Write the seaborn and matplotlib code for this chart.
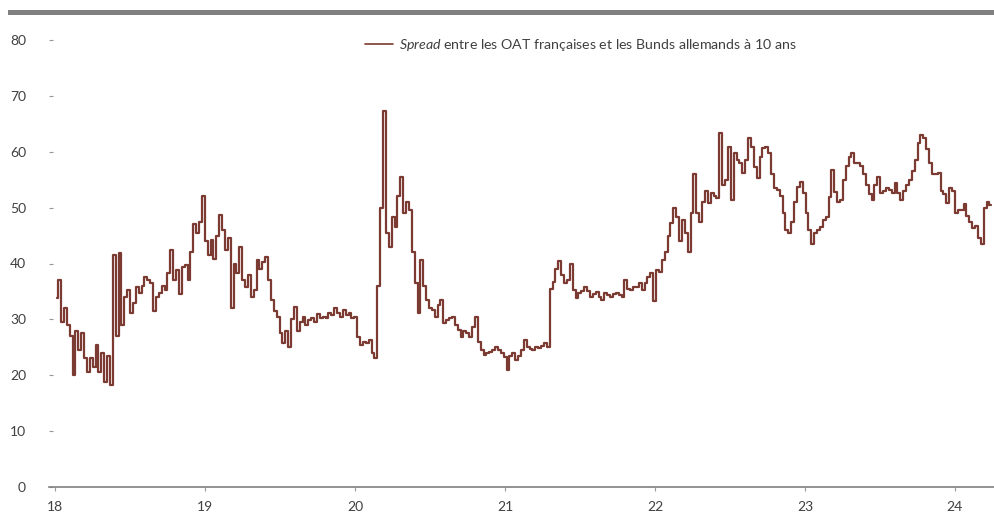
import matplotlib
matplotlib.use("Agg")
import matplotlib.pyplot as plt
from matplotlib.patches import Rectangle
import pandas as pd
import seaborn as sns

# Weekly 10-year OAT-Bund spread, in basis points
spread_2018 = [33.8, 37.0, 29.5, 32.0, 29.0, 27.0, 20.0, 28.0, 24.5, 27.5, 23.0, 20.5, 23.0,
               21.5, 25.5, 20.5, 24.0, 18.8, 23.5, 18.3, 41.5, 27.0, 41.8, 29.0, 34.0, 35.3,
               31.1, 33.0, 35.8, 34.7, 36.0, 37.6, 37.0, 36.5, 31.5, 34.0, 34.7, 36.0, 35.3,
               38.3, 42.4, 37.0, 38.8, 34.5, 39.4, 39.7, 37.0, 42.0, 47.0, 45.5, 47.5, 52.0]
spread_2019 = [44.0, 41.5, 44.2, 40.8, 45.0, 48.7, 46.0, 42.5, 44.6, 32.0, 40.0, 38.3, 43.0,
               37.0, 35.8, 38.0, 34.0, 35.3, 40.6, 39.0, 40.3, 41.2, 37.0, 33.5, 31.5, 30.5,
               27.5, 25.8, 28.0, 25.0, 30.0, 32.2, 28.0, 29.5, 30.4, 29.0, 29.8, 30.2, 29.5,
               31.0, 30.2, 30.5, 30.2, 31.1, 30.8, 32.0, 31.2, 30.4, 31.7, 30.8, 31.1, 30.2]
spread_2020 = [30.4, 26.8, 25.4, 26.0, 25.8, 26.3, 24.0, 23.1, 36.0, 50.0, 67.3, 45.5, 43.0,
               48.3, 46.5, 52.0, 55.5, 49.0, 51.0, 49.6, 42.0, 36.5, 31.1, 40.6, 36.0, 33.5,
               32.0, 31.7, 30.4, 32.5, 33.5, 29.3, 29.9, 30.2, 30.4, 29.0, 28.1, 26.8, 28.0,
               27.5, 26.8, 28.6, 30.4, 26.0, 24.5, 23.6, 24.0, 24.2, 24.5, 25.0, 24.5, 24.0]
spread_2021 = [23.2, 20.9, 23.5, 24.0, 22.7, 23.5, 24.5, 26.3, 25.0, 24.7, 24.5, 25.0, 24.8,
               25.3, 25.8, 25.0, 35.5, 36.7, 39.0, 40.5, 38.0, 36.5, 37.0, 40.0, 35.3, 33.8,
               34.7, 35.0, 35.8, 35.0, 34.0, 34.5, 34.9, 34.0, 33.5, 34.7, 34.3, 34.0, 34.5,
               34.7, 34.3, 34.0, 37.0, 35.5, 35.3, 35.8, 35.8, 36.5, 35.3, 36.5, 37.6, 38.3]
spread_2022 = [33.3, 38.8, 38.5, 40.6, 42.0, 45.0, 47.2, 50.0, 48.3, 44.0, 47.8, 45.5, 42.0,
               49.0, 56.0, 49.0, 47.5, 51.0, 53.0, 50.8, 52.6, 52.0, 51.7, 63.4, 54.0, 55.0,
               60.8, 51.4, 59.8, 58.5, 58.0, 56.2, 58.5, 62.5, 60.8, 57.3, 55.3, 59.0, 60.6,
               60.8, 59.8, 56.0, 53.5, 53.2, 52.0, 49.0, 46.0, 45.5, 47.5, 51.0, 53.7, 54.5]
spread_2023 = [52.6, 49.0, 46.0, 43.5, 45.5, 46.0, 46.5, 47.8, 48.3, 51.9, 56.7, 52.8, 51.0,
               51.4, 55.0, 57.5, 59.0, 59.8, 58.0, 58.0, 57.5, 56.0, 54.0, 52.5, 51.4, 54.0,
               55.5, 52.6, 53.0, 53.5, 53.2, 52.6, 54.4, 52.6, 51.4, 53.0, 54.0, 55.0, 56.5,
               58.5, 61.5, 63.0, 62.5, 60.5, 58.0, 56.0, 56.0, 56.2, 53.0, 52.5, 50.8, 53.5]
spread_2024 = [53.0, 49.0, 49.6, 49.5, 50.6, 48.5, 47.5, 46.4, 46.8, 44.5, 43.5, 50.0, 51.0,
               50.5]

year_labels = ["18", "19", "20", "21", "22", "23", "24"]
y_ticks = [0, 10, 20, 30, 40, 50, 60, 70, 80]
legend_label = r"$\it{Spread}$ entre les OAT françaises et les Bunds allemands à 10 ans"

LINE = "#7b3b32"
TEXT = "#404040"
GREY = "#808080"

values = (spread_2018 + spread_2019 + spread_2020 + spread_2021 + spread_2022
          + spread_2023 + spread_2024)
dates = pd.date_range("2018-01-05", periods=len(values), freq="7D")
df = pd.DataFrame({"date": dates, "spread": values})

sns.set_theme(style="white")
plt.rcParams["font.family"] = ["Lato", "DejaVu Sans"]
plt.rcParams["mathtext.fontset"] = "custom"
plt.rcParams["mathtext.rm"] = "Lato"
plt.rcParams["mathtext.it"] = "Lato:italic"

W, H = 995, 514
fig = plt.figure(figsize=(W / 100, H / 100), dpi=100)
ax = fig.add_axes([49 / W, (H - 487) / H, (W - 49) / W, (487 - 40) / H])

sns.lineplot(data=df, x="date", y="spread", ax=ax, color=LINE, lw=1.6,
             drawstyle="steps-mid", estimator=None, label=legend_label)

ax.set_xlim(pd.Timestamp("2017-12-17"), pd.Timestamp("2024-04-08"))
ax.set_ylim(0, 80)
ax.set_xticks([pd.Timestamp(f"20{y}-01-01") for y in year_labels])
ax.set_xticklabels(year_labels)
ax.set_yticks(y_ticks)
ax.set_yticklabels([str(v) for v in y_ticks])
ax.set_xlabel("")
ax.set_ylabel("")

for side in ["top", "right", "left"]:
    ax.spines[side].set_visible(False)
ax.spines["bottom"].set_color(GREY)
ax.spines["bottom"].set_linewidth(1.2)

ax.tick_params(axis="y", direction="in", length=3, width=0.8, color="#9a9a9a",
               pad=16.5, labelsize=10, labelcolor=TEXT, left=True)
ax.tick_params(axis="x", direction="out", length=3, width=0.8, color="#9a9a9a",
               pad=7, labelsize=10, labelcolor=TEXT, bottom=True)

leg = ax.legend(loc="center left", bbox_to_anchor=((365 - 49) / (W - 49), (487 - 45) / (487 - 40)),
                frameon=False, borderpad=0, borderaxespad=0, handlelength=2.0,
                handletextpad=0.4, fontsize=10.2)
for line in leg.get_lines():
    line.set_linewidth(1.2)
for t in leg.get_texts():
    t.set_color(TEXT)

# grey band across the top of the figure
fig.add_artist(Rectangle((8 / W, 1 - 15 / H), 1, 5 / H, transform=fig.transFigure,
                         color=GREY, lw=0))

fig.savefig("out.png", dpi=100)
